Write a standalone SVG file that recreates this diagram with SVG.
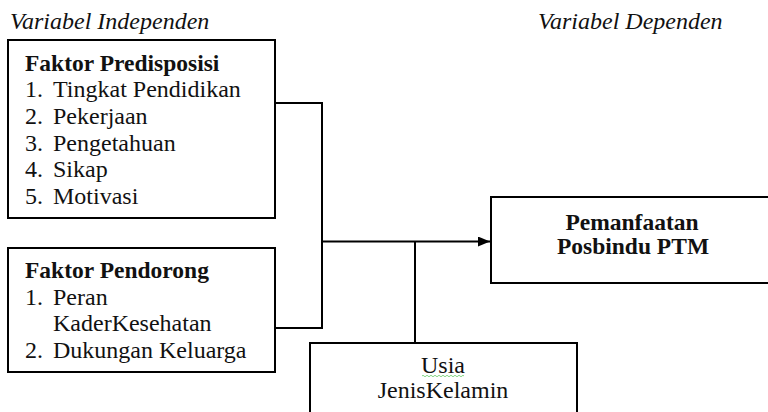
<svg xmlns="http://www.w3.org/2000/svg" width="768" height="412" viewBox="0 0 768 412" font-family="Liberation Serif, Times New Roman, serif">
<defs>
<style>
text{font-size:24px;fill:#111}
.b{font-weight:bold;font-size:23.5px}
.i{font-style:italic}
.box{fill:#fff;stroke:#000;stroke-width:2}
.ln{fill:none;stroke:#000;stroke-width:2}
</style>
<marker id="arr" markerWidth="12" markerHeight="10" refX="12" refY="5" orient="auto" markerUnits="userSpaceOnUse">
<path d="M0,0 L12,5 L0,10 Z" fill="#000"/>
</marker>
</defs>
<rect width="768" height="412" fill="#fff"/>
<g id="labels" font-family="Liberation Serif, serif">
<text class="i" x="10" y="29">Variabel Independen</text>
<text class="i" x="538" y="29">Variabel Dependen</text>
</g>
<g id="connectors">
<path class="ln" d="M275,103 H322 V328 H275"/>
<path class="ln" d="M322,241.5 H490" marker-end="url(#arr)"/>
<path class="ln" d="M415,241.5 V343"/>
</g>
<g id="faktor-predisposisi" font-family="Liberation Serif, serif">
<rect class="box" x="8" y="40" width="267" height="178"/>
<text class="b" x="25" y="71">Faktor Predisposisi</text>
<text x="25" y="97">1.</text><text x="53" y="97">Tingkat Pendidikan</text>
<text x="25" y="124">2.</text><text x="53" y="124">Pekerjaan</text>
<text x="25" y="151">3.</text><text x="53" y="151">Pengetahuan</text>
<text x="25" y="177">4.</text><text x="53" y="177">Sikap</text>
<text x="25" y="204">5.</text><text x="53" y="204">Motivasi</text>
</g>
<g id="faktor-pendorong" font-family="Liberation Serif, serif">
<rect class="box" x="8" y="248" width="267" height="124"/>
<text class="b" x="25" y="278">Faktor Pendorong</text>
<text x="25" y="305">1.</text><text x="53" y="305">Peran</text>
<text x="53" y="331">KaderKesehatan</text>
<text x="25" y="358">2.</text><text x="53" y="358">Dukungan Keluarga</text>
</g>
<g id="pemanfaatan" font-family="Liberation Serif, serif">
<rect class="box" x="491" y="197" width="290" height="86"/>
<text class="b" x="632" y="230" text-anchor="middle">Pemanfaatan</text>
<text class="b" x="633" y="254" text-anchor="middle">Posbindu PTM</text>
</g>
<g id="usia" font-family="Liberation Serif, serif">
<rect class="box" x="310" y="343" width="267" height="80"/>
<text x="443" y="373" text-anchor="middle">Usia</text>
<path d="M422,376 q1,-1.5 2,0 t2,0 t2,0 t2,0 t2,0 t2,0 t2,0 t2,0 t2,0 t2,0 t2,0 t2,0 t2,0 t2,0 t2,0 t2,0 t2,0 t2,0 t2,0 t2,0 t2,0" fill="none" stroke="#6c6" stroke-width="0.8"/>
<text x="443" y="398" text-anchor="middle">JenisKelamin</text>
</g>
</svg>
